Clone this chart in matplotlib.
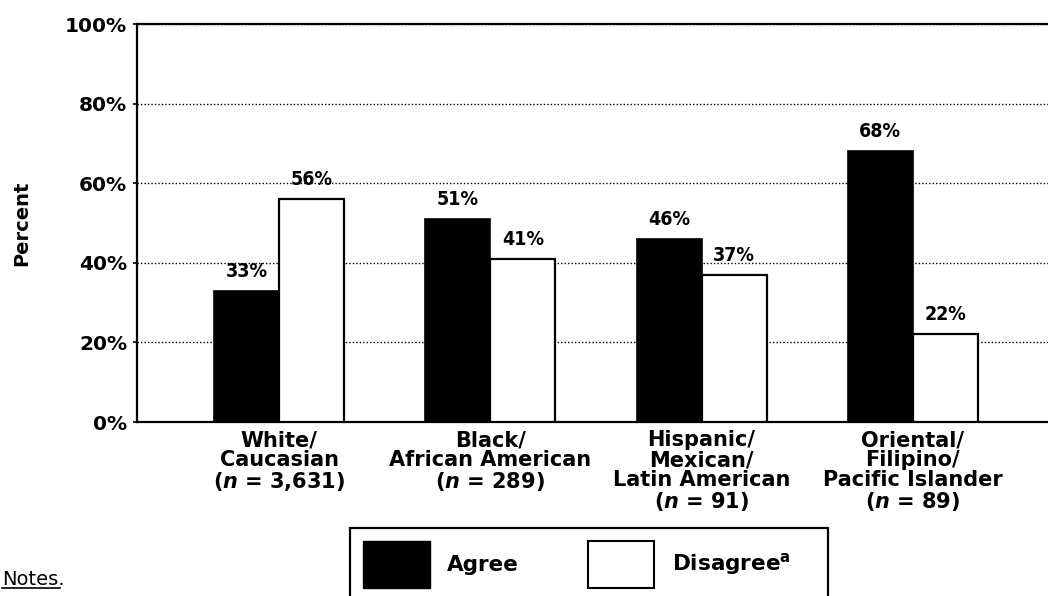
import numpy as np
import matplotlib
matplotlib.use("Agg")
import matplotlib.pyplot as plt
from matplotlib.patches import Patch

groups = ["White/\nCaucasian\n($n$ = 3,631)",
          "Black/\nAfrican American\n($n$ = 289)",
          "Hispanic/\nMexican/\nLatin American\n($n$ = 91)",
          "Oriental/\nFilipino/\nPacific Islander\n($n$ = 89)"]
agree = [33, 51, 46, 68]
disagree = [56, 41, 37, 22]
yticks = [0, 20, 40, 60, 80, 100]

plt.rcParams.update({
    "font.family": ["DejaVu Sans"],
    "font.weight": "bold",
    "mathtext.fontset": "custom",
    "mathtext.rm": "DejaVu Sans:bold",
    "mathtext.it": "DejaVu Sans:italic:bold",
    "mathtext.bf": "DejaVu Sans:bold",
})

fig = plt.figure(figsize=(10.48, 5.96), dpi=100)
ax = fig.add_axes([137 / 1048, 174 / 596, 912 / 1048, 398 / 596])

x = np.arange(len(groups))
w = 0.308
ax.bar(x - w / 2, agree, w, color="black", edgecolor="black", linewidth=1.2, zorder=3)
ax.bar(x + w / 2, disagree, w, color="white", edgecolor="black", linewidth=1.6, zorder=3)

for xi, a, d in zip(x, agree, disagree):
    for xpos, v in ((xi - w / 2, a), (xi + w / 2, d)):
        ax.annotate(f"{v}%", (xpos, v), xytext=(0, 14), textcoords="offset points",
                    ha="center", va="center", fontsize=14, fontstretch="condensed",
                    fontweight="bold")

ax.set_xlim(-0.673, 3.645)
ax.set_ylim(0, 100)
ax.set_yticks(yticks)
ax.set_yticklabels([f"{t}%" for t in yticks], fontsize=14.5, fontweight="bold")
ax.yaxis.grid(True, linestyle=(0, (1, 1.5)), color="black", linewidth=1.0, zorder=0)
ax.set_axisbelow(True)
ax.set_xticks(x)
ax.set_xticklabels(groups, fontsize=15, fontweight="bold", linespacing=1.0)
ax.tick_params(axis="x", length=0, pad=6)
ax.tick_params(axis="y", length=3, width=1.2, pad=4)
for s in ["left", "top", "bottom"]:
    ax.spines[s].set_linewidth(1.6)
ax.spines["right"].set_visible(False)
ax.set_ylabel("Percent", fontsize=14, fontweight="bold")
ax.yaxis.set_label_coords(-0.116, 0.5)

handles = [Patch(facecolor="black", edgecolor="black"),
           Patch(facecolor="white", edgecolor="black", linewidth=1.5)]
leg = fig.legend(handles, ["Agree", "Disagree$^\\mathrm{a}$    "], ncol=2,
                 loc="upper left", bbox_to_anchor=(350 / 1048, 1 - 528 / 596),
                 borderaxespad=0, fontsize=15.5, handlelength=3.1, handleheight=3.0,
                 handletextpad=0.8, columnspacing=3.2, borderpad=0.6,
                 fancybox=False, framealpha=1, edgecolor="black")
leg.get_frame().set_linewidth(1.6)
for t in leg.get_texts():
    t.set_fontweight("bold")

fig.text(2 / 1048, 1 - 585 / 596, "Notes.", fontsize=14, fontweight="normal",
         ha="left", va="baseline")
fig.add_artist(plt.Line2D([2 / 1048, 60 / 1048], [1 - 588 / 596] * 2,
                          color="black", linewidth=1.2))

fig.savefig("out.png", dpi=100)
